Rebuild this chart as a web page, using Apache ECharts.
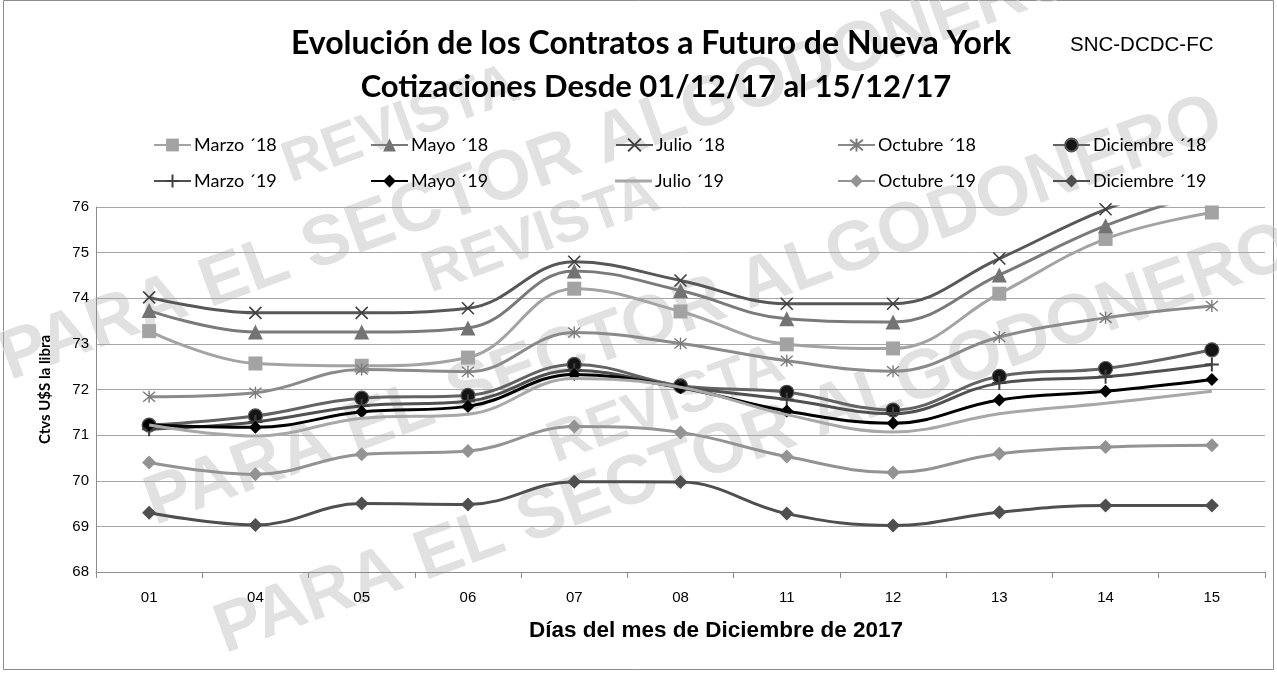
<!DOCTYPE html>
<html>
<head>
<meta charset="utf-8">
<script src="https://cdn.jsdelivr.net/npm/echarts@6/dist/echarts.min.js"></script>
<style>html,body{margin:0;padding:0;background:#fff}#c{width:1277px;height:673px}</style>
</head>
<body>
<div id="c"></div>
<script>
// ---- DATA ----
const categories = ['01','04','05','06','07','08','11','12','13','14','15'];
const seriesNames = ['Marzo ´18','Mayo ´18','Julio ´18','Octubre ´18','Diciembre ´18','Marzo ´19','Mayo ´19','Julio ´19','Octubre ´19','Diciembre ´19'];
const marzo18     = [73.28, 72.57, 72.52, 72.70, 74.21, 73.71, 72.99, 72.90, 74.10, 75.30, 75.88];
const mayo18      = [73.73, 73.26, 73.26, 73.35, 74.60, 74.17, 73.55, 73.48, 74.51, 75.59, 76.35];
const julio18     = [74.02, 73.68, 73.68, 73.78, 74.80, 74.39, 73.88, 73.88, 74.87, 75.95, 76.70];
const octubre18   = [71.84, 71.93, 72.44, 72.39, 73.25, 73.01, 72.63, 72.40, 73.15, 73.57, 73.83];
const diciembre18 = [71.22, 71.42, 71.81, 71.87, 72.55, 72.08, 71.94, 71.55, 72.29, 72.46, 72.87];
const marzo19     = [71.13, 71.29, 71.64, 71.74, 72.42, 72.06, 71.78, 71.47, 72.14, 72.28, 72.55];
const mayo19      = [71.23, 71.17, 71.51, 71.63, 72.33, 72.04, 71.53, 71.26, 71.77, 71.96, 72.22];
const julio19     = [71.22, 70.98, 71.37, 71.46, 72.24, 72.05, 71.45, 71.07, 71.47, 71.70, 71.96];
const octubre19   = [70.40, 70.14, 70.58, 70.65, 71.19, 71.06, 70.53, 70.18, 70.59, 70.74, 70.78];
const diciembre19 = [69.30, 69.03, 69.50, 69.48, 69.98, 69.97, 69.28, 69.02, 69.31, 69.46, 69.46];
const yMin = 68, yMax = 76, yInterval = 1;
const titleLine1 = 'Evolución de los Contratos a Futuro de Nueva York';
const titleLine2 = 'Cotizaciones Desde 01/12/17 al 15/12/17';
const codeText = 'SNC-DCDC-FC';
const yName = 'Ctvs U$S la libra';
const xName = 'Días del mes de Diciembre de 2017';
const watermarkMain = 'PARA EL SECTOR ALGODONERO';
const watermarkSmall = 'REVISTA';

// ---- STYLES ----
const X_PATH = 'path://M0,0L10,10M10,0L0,10';
const STAR_PATH = 'path://M0,0L10,10M10,0L0,10M5,-1L5,11';
const PLUS_PATH = 'path://M5,0L5,10M0,5L10,5';
const LINE_ICON = 'path://M0,0L37,0L37,3L0,3Z';
const styles = [
  {line:'#a3a3a3', fill:'#a3a3a3', border:'#a3a3a3', bw:0, symbol:'rect', size:14},
  {line:'#7a7a7a', fill:'#737373', border:'#737373', bw:0, symbol:'triangle', size:15},
  {line:'#575757', fill:'none', border:'#404040', bw:1.6, symbol:X_PATH, size:12},
  {line:'#8a8a8a', fill:'none', border:'#7a7a7a', bw:1.4, symbol:STAR_PATH, size:12},
  {line:'#636363', fill:'#151515', border:'#555555', bw:1.2, symbol:'circle', size:14},
  {line:'#505050', fill:'none', border:'#404040', bw:2, symbol:PLUS_PATH, size:14},
  {line:'#000000', fill:'#000000', border:'#000000', bw:0, symbol:'diamond', size:13},
  {line:'#a8a8a8', fill:'#a8a8a8', border:'#a8a8a8', bw:0, symbol:'none', size:0},
  {line:'#939393', fill:'#939393', border:'#939393', bw:0, symbol:'diamond', size:14},
  {line:'#4f4f4f', fill:'#4f4f4f', border:'#4f4f4f', bw:0, symbol:'diamond', size:14}
];
const dataSets = [marzo18, mayo18, julio18, octubre18, diciembre18, marzo19, mayo19, julio19, octubre19, diciembre19];

const legendCols = [153, 370, 615, 837, 1052];
const legendRows = [136, 172];

const series = seriesNames.map((n, i) => {
  const s = styles[i];
  return {
    name: n, type: 'line', data: dataSets[i], smooth: 0.4, clip: true,
    symbol: s.symbol, symbolSize: s.size, showSymbol: s.symbol !== 'none',
    lineStyle: {color: s.line, width: 3},
    itemStyle: {color: s.fill === 'none' ? s.border : s.fill, borderColor: s.border, borderWidth: s.bw},
    emphasis: {disabled: true},
    z: 3 + i
  };
});

const legends = seriesNames.map((n, i) => ({
  data: [styles[i].symbol === 'none'
    ? {name: n, icon: LINE_ICON, itemStyle: {color: styles[i].line, borderWidth: 0}}
    : n],
  left: legendCols[i % 5],
  top: legendRows[Math.floor(i / 5)],
  padding: 0,
  itemWidth: 37, itemHeight: 16, itemGap: 3,
  selectedMode: false,
  textStyle: {fontFamily: 'Lato', fontSize: 18, color: '#000', padding: [0,0,0,-2]}
}));

function wm(text, x, y, size, rot) {
  return {
    type: 'text', x: x, y: y, rotation: rot * Math.PI / 180, z: -10, silent: true,
    style: {text: text, fontFamily: 'Liberation Sans', fontWeight: 'bold', fontSize: size,
            fill: 'rgba(180,180,180,0.40)', stroke: 'rgba(255,255,255,0.6)', lineWidth: 1,
            align: 'left', verticalAlign: 'bottom'}
  };
}

const chart = echarts.init(document.getElementById('c'), null, {renderer: 'canvas'});
chart.setOption({
  backgroundColor: '#fff',
  animation: false,
  title: [
    {text: titleLine1, left: 651, top: 28, textAlign: 'center', padding: 0,
     textStyle: {fontFamily: 'Lato', fontWeight: 'bold', fontSize: 32, color: '#000'}},
    {text: titleLine2, left: 656, top: 71, textAlign: 'center', padding: 0,
     textStyle: {fontFamily: 'Lato', fontWeight: 'bold', fontSize: 31, color: '#000'}},
    {text: codeText, left: 1070, top: 35, padding: 0,
     textStyle: {fontFamily: 'Liberation Sans', fontWeight: 'normal', fontSize: 20.5, color: '#000'}},
    {text: xName, left: 716, top: 619, textAlign: 'center', padding: 0,
     textStyle: {fontFamily: 'Liberation Sans', fontWeight: 'bold', fontSize: 22.5, color: '#000'}}
  ],
  legend: legends,
  grid: {left: 96, right: 12, top: 207, bottom: 101, containLabel: false},
  xAxis: {
    type: 'category', data: categories, boundaryGap: true,
    axisLine: {lineStyle: {color: '#8c8c8c', width: 1}},
    axisTick: {show: true, length: 6, lineStyle: {color: '#8c8c8c'}},
    axisLabel: {fontFamily: 'Liberation Sans', fontSize: 15, color: '#000', margin: 18},
    splitLine: {show: false}
  },
  yAxis: {
    type: 'value', min: yMin, max: yMax, interval: yInterval,
    name: yName, nameLocation: 'middle', nameGap: 43,
    nameTextStyle: {fontFamily: 'Lato', fontWeight: 'bold', fontSize: 15, color: '#000'},
    axisLine: {show: true, lineStyle: {color: '#8c8c8c', width: 1}},
    axisTick: {show: false},
    axisLabel: {fontFamily: 'Liberation Sans', fontSize: 15, color: '#000', margin: 7},
    splitLine: {show: true, lineStyle: {color: '#a6a6a6', width: 1}}
  },
  graphic: [
    {type: 'rect', shape: {x: 3.5, y: 0.5, width: 1270, height: 669}, z: -20, silent: true,
     style: {fill: 'none', stroke: '#8c8c8c', lineWidth: 1}},
    wm(watermarkMain, 15, 395, 70, 20),
    wm(watermarkMain, 160, 540, 70, 20),
    wm(watermarkMain, 230, 668, 70, 20),
    wm(watermarkSmall, 295, 195, 58, 20),
    wm(watermarkSmall, 435, 305, 58, 20),
    wm(watermarkSmall, 560, 475, 58, 20)
  ],
  series: series
});
</script>
</body>
</html>
